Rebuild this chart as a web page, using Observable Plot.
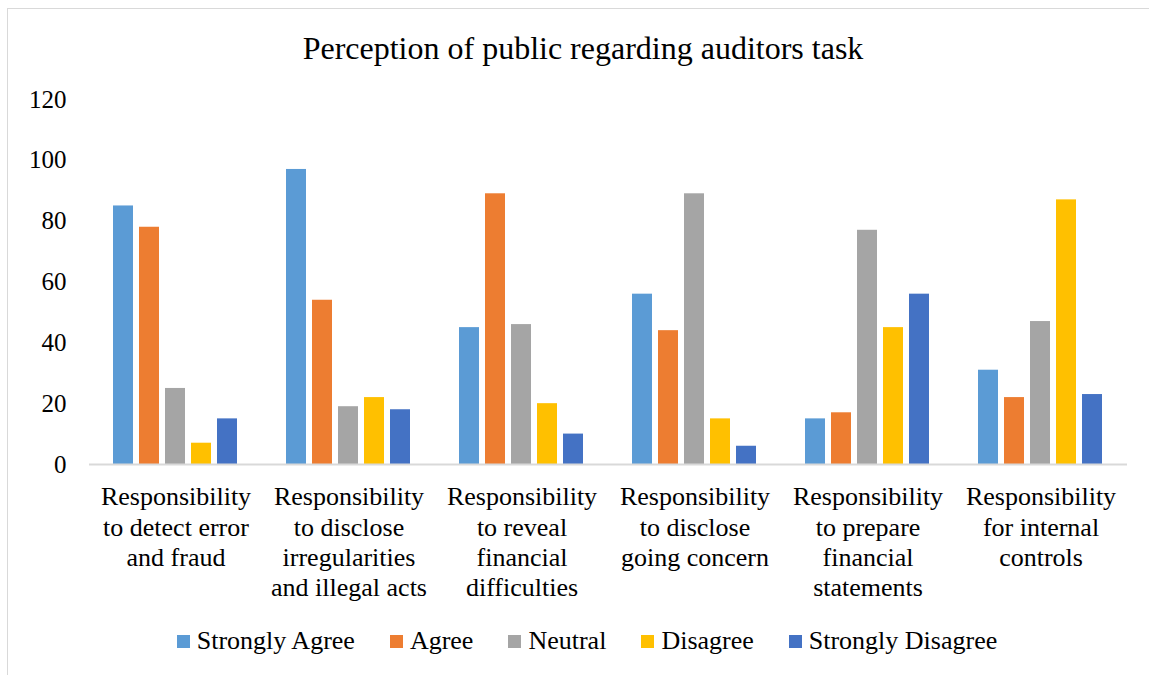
<!DOCTYPE html>
<html>
<head>
<meta charset="utf-8">
<script src="https://cdn.jsdelivr.net/npm/d3@7"></script>
<script src="https://cdn.jsdelivr.net/npm/@observablehq/plot@0.6"></script>
<style>
  html, body { margin: 0; padding: 0; background: #fff; width: 1149px; height: 675px; overflow: hidden; }
  body { position: relative; font-family: "Liberation Serif", serif; color: #000; }
  #frame { position: absolute; left: 7px; top: 8px; width: 1160px; height: 700px; border: 1px solid #d9d9d9; box-sizing: border-box; }
  #title { position: absolute; left: 0; width: 1166px; top: 29px; text-align: center; font-size: 32px; line-height: 38px; font-family: "Liberation Serif", serif; }
  #chart { position: absolute; left: 0; top: 70px; }
  #chart svg { overflow: visible; }
  #chart svg, #chart svg text { font-family: "Liberation Serif", serif !important; }
  #legend { position: absolute; left: 0; width: 1174px; top: 626px; display: flex; justify-content: center; font-size: 26px; line-height: 30px; font-family: "Liberation Serif", serif; }
  .item { display: flex; align-items: center; margin: 0 17.5px; }
  .sw { width: 13px; height: 13px; margin-right: 7px; }
</style>
</head>
<body>
<div id="frame"></div>
<div id="title">Perception of public regarding auditors task</div>
<div id="chart"></div>
<div id="legend"></div>
<script>
// Categories (x tick labels, with line breaks as in the reference)
const categories = [
  "Responsibility\nto detect error\nand fraud",
  "Responsibility\nto disclose\nirregularities\nand illegal acts",
  "Responsibility\nto reveal\nfinancial\ndifficulties",
  "Responsibility\nto disclose\ngoing concern",
  "Responsibility\nto prepare\nfinancial\nstatements",
  "Responsibility\nfor internal\ncontrols"
];
const levels = ["Strongly Agree", "Agree", "Neutral", "Disagree", "Strongly Disagree"];
const colors = ["#5B9BD5", "#ED7D31", "#A5A5A5", "#FFC000", "#4472C4"];

// Series values
const stronglyAgree    = [85, 97, 45, 56, 15, 31];
const agree            = [78, 54, 89, 44, 17, 22];
const neutral          = [25, 19, 46, 89, 77, 47];
const disagree         = [7, 22, 20, 15, 45, 87];
const stronglyDisagree = [15, 18, 10, 6, 56, 23];

const yTicks = [0, 20, 40, 60, 80, 100, 120];

const series = [stronglyAgree, agree, neutral, disagree, stronglyDisagree];
const data = [];
categories.forEach((c, i) => {
  levels.forEach((l, j) => data.push({category: c, level: l, value: series[j][i]}));
});

const chart = Plot.plot({
  width: 1149,
  height: 550,
  marginTop: 29,
  marginBottom: 156,
  marginLeft: 87,
  marginRight: 20,
  style: {fontFamily: "'Liberation Serif', serif", fontSize: "26px", color: "#000", background: "transparent"},
  fx: {domain: categories, padding: 0, label: null},
  x: {domain: levels, paddingInner: 0.213, paddingOuter: 0.857, axis: null},
  y: {domain: [0, 120], label: null},
  color: {domain: levels, range: colors},
  marks: [
    Plot.barY(data, {fx: "category", x: "level", y: "value", fill: "level"}),
    Plot.ruleY([0], {stroke: "#d9d9d9", strokeWidth: 2}),
    Plot.axisY({ticks: yTicks, tickSize: 0, tickPadding: 23, label: null, fontSize: 25}),
    Plot.axisFx({anchor: "bottom", tickSize: 0, tickPadding: 19, label: null, fontSize: 26, lineHeight: 1.17})
  ]
});
document.getElementById("chart").appendChild(chart);

const legend = document.getElementById("legend");
levels.forEach((l, j) => {
  const it = document.createElement("div");
  it.className = "item";
  const sw = document.createElement("div");
  sw.className = "sw";
  sw.style.background = colors[j];
  const tx = document.createElement("span");
  tx.textContent = l;
  it.appendChild(sw);
  it.appendChild(tx);
  legend.appendChild(it);
});
</script>
</body>
</html>
